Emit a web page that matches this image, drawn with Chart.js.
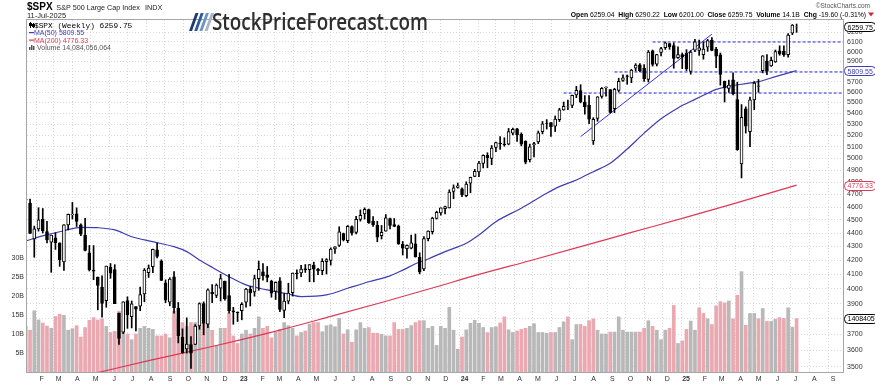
<!DOCTYPE html>
<html><head><meta charset="utf-8">
<script src="https://cdn.jsdelivr.net/npm/chart.js@4.4.1/dist/chart.umd.min.js"></script>
<style>html,body{margin:0;padding:0;background:#fff;}canvas{display:block;}</style>
</head><body>
<canvas id="c" width="875" height="385"></canvas>
<script>
// ---------- data (weekly $SPX, first bar = week ending 14-Jan-2022) ----------
const firstWeek = [2022, 0, 14];
const prevClose = 4677.03;
const opens = [4655,4632,4356,4432,4505,4412,4332,4364,4327,4188,4462,4541,4547,4463,4385,4255,4130,4081,4013,3920,4151,4134,3838,3715,3920,3815,3880,3883,3966,4112,4155,4276,4195,4041,3910,4083,3871,3682,3610,3636,3638,3754,3901,3766,3977,3956,4005,4053,3954,3853,3843,
3853,3910,3999,3979,4070,4119,4097,4053,3982,4055,3855,3917,3974,4110,4110,4140,4134,4166,4136,4126,4190,4200,4283,4308,4397,4344,4450,4405,4505,4547,4580,4491,4458,4380,4415,4511,4464,4453,4316,4285,4289,4320,4222,4139,4358,4411,4511,4554,4587,4593,4725,4758,
4745,4690,4792,4848,4886,4957,5026,5000,5093,5132,5123,5123,5219,5258,5211,5149,4988,5116,5142,5233,5305,5315,5283,5341,5432,5459,5472,5572,5614,5505,5476,5151,5353,5557,5640,5623,5442,5615,5712,5757,5737,5833,5866,5833,5723,6008,5874,5992,6040,6083,6063,5938,
5969,5982,5801,6015,6012,5969,6046,6119,6026,5968,5705,5635,5718,5528,4953,5441,5233,5526,5655,5807,5902,5855,5896,6009,6005,5970,6193,6259.04];
const highs = [4749,4664,4453,4595,4589,4490,4385,4402,4327,4465,4546,4637,4594,4471,4513,4308,4307,4082,4090,4159,4177,4169,3838,3913,3946,3918,3880,4013,4141,4167,4281,4326,4204,4062,4077,4120,3908,3736,3807,3686,3763,3906,3912,4001,4029,4034,4100,4053,4101,3876,3846,
3907,4004,4016,4095,4195,4176,4156,4060,4048,4078,3968,4039,4110,4133,4164,4170,4170,4187,4143,4212,4212,4291,4299,4448,4400,4458,4456,4528,4578,4594,4584,4527,4490,4458,4542,4514,4511,4461,4338,4312,4385,4393,4255,4374,4418,4521,4568,4595,4609,4738,4778,4793,
4754,4803,4842,4907,4975,5030,5048,5111,5140,5189,5179,5262,5265,5264,5222,5152,5123,5139,5239,5325,5342,5315,5375,5447,5505,5524,5570,5655,5670,5566,5567,5360,5556,5643,5651,5623,5636,5734,5767,5765,5822,5878,5878,5870,6012,6017,5973,6044,6099,6085,6090,6050,
5986,6021,6011,6128,6120,6101,6127,6147,6044,5986,5705,5715,5786,5695,5481,5460,5551,5700,5721,5959,5969,5944,6017,6060,6059,6188,6285,6290.22];
const lows = [4582,4395,4222,4415,4401,4327,4115,4279,4157,4129,4424,4507,4450,4381,4268,4124,4063,3859,3811,3876,4073,3900,3637,3705,3739,3742,3722,3853,3913,4079,4112,4218,4057,3907,3886,3838,3647,3584,3584,3491,3637,3733,3698,3743,3906,3940,3918,3923,3838,3765,3783,
3794,3877,3885,3950,3990,4060,4048,3943,3928,3847,3808,3899,3951,4069,4085,4114,4049,4048,4099,4098,4103,4166,4250,4300,4341,4328,4385,4393,4491,4507,4474,4450,4335,4356,4414,4431,4448,4316,4238,4216,4283,4223,4104,4126,4342,4393,4507,4537,4546,4593,4666,4751,
4682,4682,4714,4845,4845,4918,4920,4946,5057,5077,5104,5117,5204,5146,5107,4953,4969,5011,5127,5213,5256,5191,5234,5325,5428,5433,5452,5546,5497,5391,5306,5120,5327,5541,5561,5402,5406,5600,5703,5674,5690,5805,5798,5703,5696,5853,5855,5956,6023,6024,5832,5932,
5829,5809,5773,6001,5962,5923,6003,6009,5837,5666,5505,5597,5572,5069,4835,5220,5101,5434,5598,5786,5768,5850,5891,5963,5952,5943,6177,6201.00];
const closes = [4662.85,4397.94,4431.85,4500.53,4418.64,4348.87,4384.65,4328.87,4204.31,4463.12,4543.06,4545.86,4488.28,4392.59,4271.78,4131.93,4123.34,4023.89,3901.36,4158.24,4108.54,3900.86,3674.84,3911.74,3825.33,3899.38,3863.16,3961.63,4130.29,4145.19,4280.15,4228.48,4057.66,3924.26,4067.36,3873.33,3693.23,3585.62,3639.66,3583.07,3752.75,3901.06,3770.55,3992.93,3965.34,4026.12,4071.70,3934.38,3852.36,3844.82,3839.50,
3895.08,3999.09,3972.61,4070.56,4136.48,4090.46,4079.09,3970.04,4045.64,3861.59,3916.64,3970.99,4109.31,4105.02,4137.64,4133.52,4169.48,4136.25,4124.08,4191.98,4205.45,4282.37,4298.86,4409.59,4348.33,4450.38,4398.95,4505.42,4536.34,4582.23,4478.03,4464.05,4369.71,4405.71,4515.77,4457.49,4450.32,4320.06,4288.05,4308.50,4327.78,4224.16,4117.37,4358.34,4415.24,4514.02,4559.34,4594.63,4604.37,4719.19,4754.63,4769.83,
4697.24,4783.83,4839.81,4890.97,4958.61,5026.61,5005.57,5088.80,5137.08,5123.69,5117.09,5234.18,5254.35,5204.34,5123.41,4967.23,5099.96,5127.79,5222.68,5303.27,5304.72,5277.51,5346.99,5431.60,5464.62,5460.48,5567.19,5615.35,5505.00,5459.10,5346.56,5344.16,5554.25,5634.61,5648.40,5408.42,5626.02,5702.55,5738.17,5751.07,5815.03,5864.67,5808.12,5728.80,5995.54,5870.62,5969.34,6032.38,6090.27,6051.09,5930.85,5970.84,
5942.47,5827.04,5996.66,6101.24,6040.53,6025.99,6114.63,6013.13,5954.50,5770.20,5638.94,5667.56,5580.94,5074.08,5363.36,5282.70,5525.21,5686.67,5659.91,5958.38,5802.82,5911.69,6000.36,5976.97,5967.84,6173.07,6279.35,6259.75];
// weekly volume, billions
const volumes = [12,11,16.1,13.7,12.9,12.1,11.5,14.6,15.2,14.9,11,11.4,12.2,9.2,11.7,13.6,14.3,13.7,14,12,10.4,10.7,16,11,10,8.5,10,11.5,12,
11.5,11.2,9.5,9.5,10,9,16,14,13,12,13,13,12,13,12.5,11,7,11.5,11.5,15.5,9.5,7.5,
10,11,10,11.5,14.5,11.5,12,9,10.5,11.2,13,12.2,11.5,9.5,10.4,10.8,12.6,13,13,10.6,12.2,12.4,11.9,14.1,10,11.1,7.8,11.1,13,11.5,11.7,10.2,10.2,9.9,9.5,9.5,13,11.2,11.2,11.5,12.2,13,13.5,13.5,11.5,12,7,12,11.5,17,11,6,
9.2,11.1,12.8,13.6,12.8,11.7,10.4,11.7,11.9,12.9,14.5,11.1,10.4,10.8,11.2,11.5,12,12.7,10.4,10.4,10.2,10.4,10.4,11.7,13.2,14.5,8.5,12.5,
12.5,12,13.5,14,11,10,10,10.5,10.5,14.5,11,10.5,10.5,10.5,10.5,11.5,13.5,12,11,8.5,11,11.5,17.5,7.5,
8.2,11.2,13.4,11,16.9,15.4,14,12.5,17.4,18.5,18.2,18.7,14,20.2,26.4,12.3,15.4,15.4,14,16.7,13.3,13.3,13.9,14.3,14.1,16.9,11.8,14.08];
const lastVolume = 14084056064;
// moving averages (week index, value)
const ma50Weeks = [0,4,9,13,17,21,25,30,35,38,41,44,48,52,57,62,65,71,76,81,86,89,92,95,99,104,107,111,117,123,126,130,134,138,142,146,150,154,158,161,163,166,169,173,177,182];
const ma50 = [4341,4379,4418,4444,4441,4424,4373,4336,4299,4263,4203,4150,4084,4027,3993,3965,3948,3959,4004,4049,4090,4130,4175,4210,4263,4324,4386,4487,4591,4710,4764,4818,4887,4958,5080,5220,5350,5450,5530,5588,5625,5655,5675,5700,5749,5809.55];
const ma200Weeks = [1,15,29,45,60,72,84,96,107,119,131,143,155,167,182];
const ma200 = [3377,3455,3538,3631,3728,3816,3908,4006,4100,4197,4299,4405,4512,4626,4776.33];
// annotations: horizontal dashed levels (from week) and a trend line
const levelValues = [6100, 5795, 5590];
const levelFromWeek = [148, 139, 127];
const trendWeeks = [131, 162];
const trendValues = [5189, 6182];
// axis ticks
const priceTicks = [3500,3600,3700,3800,3900,4000,4100,4200,4300,4400,4500,4600,4700,4800,4900,5000,5100,5200,5300,5400,5500,5600,5700,5800,5900,6000,6100,6200];
const volumeTicks = [5,10,15,20,25,30];
const monthLabels = ['F','M','A','M','J','J','A','S','O','N','D','23','F','M','A','M','J','J','A','S','O','N','D','24','F','M','A','M','J','J','A','S','O','N','D','25','F','M','A','M','J','J','A','S'];

// ---------- derived ----------
const N = closes.length;
const idx = closes.map((_, i) => i);
const startMs = Date.UTC(firstWeek[0], firstWeek[1], firstWeek[2]);
const monthPos = monthLabels.map((_, k) => (Date.UTC(2022, 1 + k, 1) - startMs) / 6048e5);
const xMin = 0.28, xMax = 192.96;
const FONT = '"Liberation Sans", Arial, sans-serif';

const PINK = '#eaa8b1', GREY = '#b8b8b8';
const volColors = idx.map(i => closes[i] >= (i ? closes[i - 1] : prevClose) ? GREY : PINK);

const datasets = [
  { type: 'bar', data: idx.map(i => ({ x: i, y: [Math.min(opens[i], closes[i]), Math.max(opens[i], closes[i])] })),
    yAxisID: 'y', barThickness: 3, grouped: false, borderSkipped: false,
    backgroundColor: idx.map(i => closes[i] >= opens[i] ? '#ffffff' : '#000000'),
    borderColor: '#000', borderWidth: 1, order: 1 },
  { type: 'bar', data: idx.map(i => ({ x: i, y: [lows[i], highs[i]] })),
    yAxisID: 'y', barThickness: 1, grouped: false, backgroundColor: '#000', order: 2 },
  { type: 'line', data: ma50Weeks.map((w, k) => ({ x: w, y: ma50[k] })), yAxisID: 'y',
    borderColor: '#3d3db3', borderWidth: 1.2, pointRadius: 0, cubicInterpolationMode: 'monotone', order: 5 },
  { type: 'line', data: ma200Weeks.map((w, k) => ({ x: w, y: ma200[k] })), yAxisID: 'y',
    borderColor: '#df3856', borderWidth: 1.2, pointRadius: 0, cubicInterpolationMode: 'monotone', order: 5 },
  ...levelValues.map((v, k) => ({ type: 'line', data: [{ x: levelFromWeek[k], y: v }, { x: xMax, y: v }], yAxisID: 'y',
    borderColor: '#2626e6', borderWidth: 1, borderDash: [3, 2], pointRadius: 0, order: 4 })),
  { type: 'line', data: trendWeeks.map((w, k) => ({ x: w, y: trendValues[k] })), yAxisID: 'y',
    borderColor: '#2f2fe6', borderWidth: 1, pointRadius: 0, order: 4 },
  { type: 'bar', data: idx.map(i => ({ x: i, y: volumes[i] })), yAxisID: 'yv', barThickness: 3, grouped: false,
    backgroundColor: volColors, order: 20 }
];

const decor = {
  id: 'decor',
  afterDraw(chart) {
    const { ctx, chartArea: a, scales } = chart;
    const y = scales.y, yv = scales.yv;
    ctx.save();
    // frame
    ctx.strokeStyle = '#a6a6a6'; ctx.lineWidth = 1;
    ctx.strokeRect(Math.round(a.left) - 0.5, Math.round(a.top) - 0.5, Math.round(a.right - a.left) + 1, Math.round(a.bottom - a.top) + 1);

    // value boxes on the right axis
    const box = (text, yp, color) => {
      ctx.font = '7px ' + FONT;
      const w = ctx.measureText(text).width + 6, h = 9, x0 = Math.round(a.right) + 1.5;
      ctx.fillStyle = '#fff'; ctx.strokeStyle = color; ctx.lineWidth = 1;
      ctx.beginPath(); ctx.roundRect(x0, Math.round(yp - h / 2) + 0.5, w, h, 4); ctx.fill(); ctx.stroke();
      ctx.fillStyle = color; ctx.textBaseline = 'middle'; ctx.textAlign = 'left';
      ctx.fillText(text, x0 + 3, Math.round(yp) + 1);
    };
    box(closes[N - 1].toFixed(2), y.getPixelForValue(closes[N - 1]), '#000');
    box(ma50[ma50.length - 1].toFixed(2), y.getPixelForValue(ma50[ma50.length - 1]), '#3d3db3');
    box(ma200[ma200.length - 1].toFixed(2), y.getPixelForValue(ma200[ma200.length - 1]), '#df3856');
    box(String(lastVolume).slice(0, 7), yv.getPixelForValue(lastVolume / 1e9), '#000');

    // header
    ctx.textAlign = 'left'; ctx.textBaseline = 'alphabetic';
    ctx.fillStyle = '#000';
    ctx.font = 'bold 10px ' + FONT; ctx.fillText('$SPX', 27, 10);
    const hw = ctx.measureText('$SPX ').width;
    ctx.font = '7.2px ' + FONT; ctx.fillStyle = '#222';
    ctx.fillText('S&P 500 Large Cap Index', 27 + hw + 1, 10);
    ctx.fillText('INDX', 145, 10);
    ctx.font = '7.5px ' + FONT; ctx.fillText('11-Jul-2025', 27, 17.5);

    // in-plot legend
    const lx = Math.round(a.left) + 2;
    ctx.fillStyle = '#000';
    ctx.fillRect(lx + 1, 22, 1, 6); ctx.fillRect(lx, 23, 3, 3);
    ctx.fillRect(lx + 4, 23, 1, 5); ctx.strokeStyle = '#000'; ctx.strokeRect(lx + 3.5, 24.5, 2, 2);
    ctx.font = '7.8px "Liberation Mono", monospace';
    ctx.fillText('$SPX (Weekly) ' + closes[N - 1].toFixed(2), lx + 5, 27.5);
    ctx.font = '7px ' + FONT;
    ctx.fillStyle = '#3d3db3'; ctx.fillRect(lx, 32, 5, 1.2);
    ctx.fillText('MA(50) ' + ma50[ma50.length - 1].toFixed(2), lx + 5, 35);
    ctx.fillStyle = '#df3856'; ctx.fillRect(lx, 39.5, 5, 1.2);
    ctx.fillText('MA(200) ' + ma200[ma200.length - 1].toFixed(2), lx + 5, 42.5);
    ctx.fillStyle = '#555';
    ctx.fillRect(lx, 47, 1.5, 3); ctx.fillRect(lx + 2, 45, 1.5, 5); ctx.fillRect(lx + 4, 46, 1.5, 4);
    ctx.fillText('Volume ' + lastVolume.toLocaleString('en-US'), lx + 8, 50);

    // top-right info line
    const chg = closes[N - 1] - closes[N - 2];
    const pct = chg / closes[N - 2] * 100;
    const segs = [['Open', 1], [' ' + opens[N - 1].toFixed(2) + '  ', 0], ['High', 1], [' ' + highs[N - 1].toFixed(2) + '  ', 0],
      ['Low', 1], [' ' + lows[N - 1].toFixed(2) + '  ', 0], ['Close', 1], [' ' + closes[N - 1].toFixed(2) + '  ', 0],
      ['Volume', 1], [' ' + (lastVolume / 1e9).toFixed(1) + 'B  ', 0], ['Chg', 1], [' ' + chg.toFixed(2) + ' (' + pct.toFixed(2) + '%)', 0]];
    const fb = 'bold 6.8px ' + FONT, fn = '6.8px ' + FONT;
    let total = 0;
    segs.forEach(s => { ctx.font = s[1] ? fb : fn; total += ctx.measureText(s[0]).width; });
    let sx = 866 - total;
    ctx.fillStyle = '#000';
    segs.forEach(s => { ctx.font = s[1] ? fb : fn; ctx.fillText(s[0], sx, 17); sx += ctx.measureText(s[0]).width; });
    ctx.fillStyle = '#d0243c';
    ctx.beginPath(); ctx.moveTo(868, 12.5); ctx.lineTo(874, 12.5); ctx.lineTo(871, 16.5); ctx.closePath(); ctx.fill();
    ctx.fillStyle = '#555'; ctx.font = '6.5px ' + FONT; ctx.textAlign = 'right';
    ctx.fillText('\u00A9StockCharts.com', 870, 8);

    // logo
    ctx.textAlign = 'left';
    const sl = ['#1d3b6e', '#2b5c9c', '#6e94c2', '#a8b6c6'];
    sl.forEach((c, k) => {
      const bx = 189 + k * 5.2;
      ctx.fillStyle = c; ctx.beginPath();
      ctx.moveTo(bx, 31); ctx.lineTo(bx + 3, 31); ctx.lineTo(bx + 9.5, 13); ctx.lineTo(bx + 6.5, 13); ctx.closePath(); ctx.fill();
    });
    ctx.font = '600 23px "Open Sans", sans-serif';
    const sc = 216 / ctx.measureText('StockPriceForecast.com').width;
    ctx.save(); ctx.translate(212, 30); ctx.scale(sc, 1);
    ctx.fillStyle = '#2e2e2e'; ctx.fillText('StockPriceForecast.com', 0, 0);
    ctx.restore();
    ctx.restore();
  }
};

new Chart(document.getElementById('c'), {
  type: 'bar',
  data: { datasets },
  options: {
    responsive: false, animation: false, devicePixelRatio: 1,
    layout: { padding: { top: 20, left: 0, right: 0, bottom: 0 } },
    plugins: { legend: { display: false }, tooltip: { enabled: false } },
    scales: {
      x: {
        type: 'linear', position: 'bottom', min: xMin, max: xMax, offset: false,
        afterBuildTicks: s => { s.ticks = monthPos.map(v => ({ value: v })); },
        afterFit: s => { s.height = 13; },
        ticks: {
          autoSkip: false, maxRotation: 0, padding: 3, labelOffset: 5, color: '#333',
          font: c => ({ family: FONT, size: 7, weight: /\d/.test(monthLabels[c.index] || '') ? 'bold' : 'normal' }),
          callback: (v, i) => monthLabels[i]
        },
        grid: { offset: false, drawTicks: false, color: '#dadada', lineWidth: 1 },
        border: { display: false, dash: [1, 2] }
      },
      y: {
        type: 'logarithmic', position: 'right', min: 3470.2, max: 6333.5,
        afterBuildTicks: s => { s.ticks = priceTicks.map(v => ({ value: v })); },
        afterFit: s => { s.width = 32; },
        ticks: { autoSkip: false, padding: 4, color: '#333', font: { family: FONT, size: 7 }, callback: v => String(v) },
        grid: { drawTicks: false, color: '#dadada', lineWidth: 1 },
        border: { display: false, dash: [1, 2] }
      },
      yv: {
        type: 'linear', position: 'left', min: 0, max: 92.6,
        afterBuildTicks: s => { s.ticks = volumeTicks.map(v => ({ value: v })); },
        afterFit: s => { s.width = 27; },
        ticks: { autoSkip: false, padding: 3, color: '#333', font: { family: FONT, size: 7 }, callback: v => v + 'B' },
        grid: { display: false, drawTicks: false },
        border: { display: false }
      }
    }
  },
  plugins: [decor]
});
</script>
</body></html>
